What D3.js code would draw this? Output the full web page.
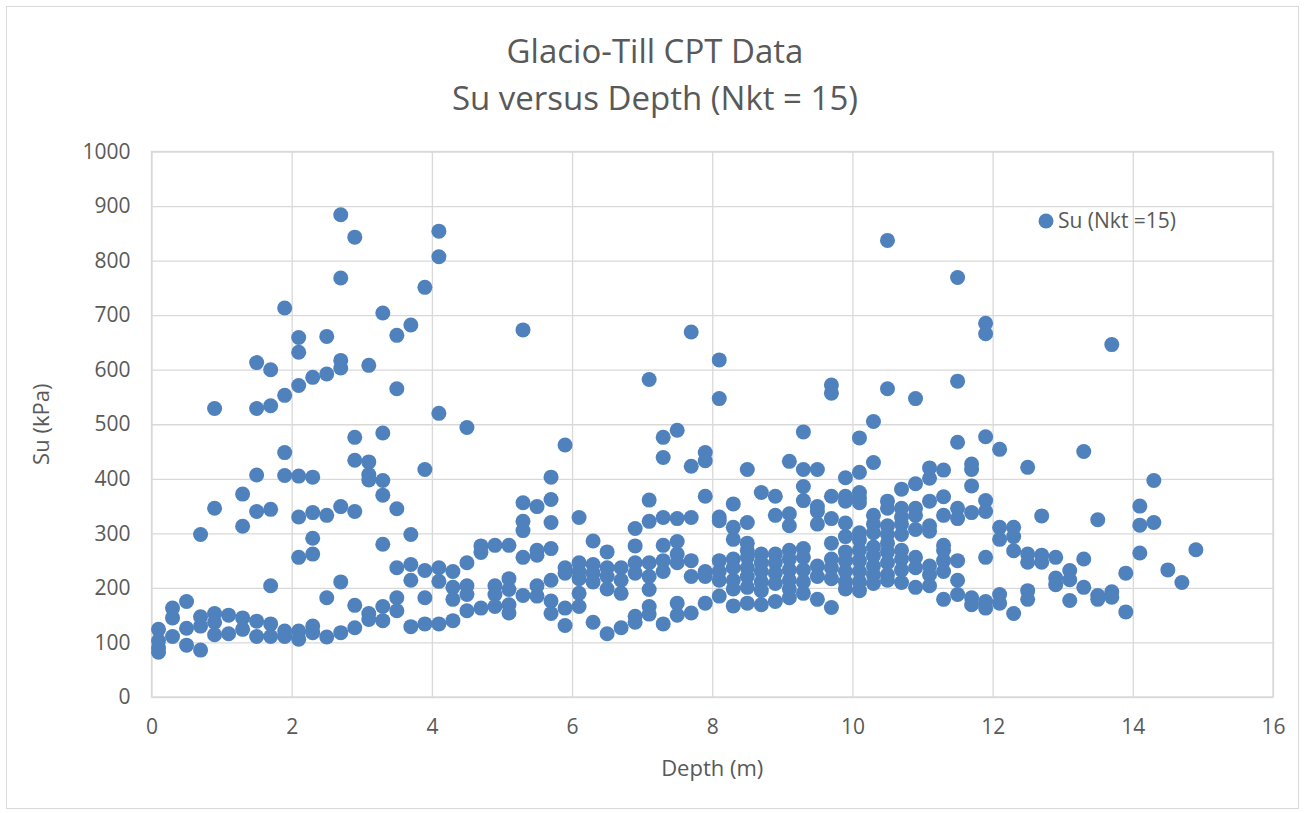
<!DOCTYPE html>
<html><head><meta charset="utf-8">
<script src="https://cdn.jsdelivr.net/npm/d3@7"></script>
<style>body{margin:0;background:#fff}svg{display:block}text{font-family:"Open Sans",sans-serif;fill:#595959}</style>
</head><body><svg id="c" width="1304" height="813"></svg>
<script>
const titleLines = ["Glacio-Till CPT Data", "Su versus Depth (Nkt = 15)"];
const xTicks = [0,2,4,6,8,10,12,14,16];
const yTicks = [0,100,200,300,400,500,600,700,800,900,1000];
const seriesName = "Su (Nkt =15)";
const depths = [0.1,0.3,0.5,0.7,0.9,1.1,1.3,1.5,1.7,1.9,2.1,2.3,2.5,2.7,2.9,3.1,3.3,3.5,3.7,3.9,4.1,4.3,4.5,4.7,4.9,5.1,5.3,5.5,5.7,5.9,6.1,6.3,6.5,6.7,6.9,7.1,7.3,7.5,7.7,7.9,8.1,8.3,8.5,8.7,8.9,9.1,9.3,9.5,9.7,9.9,10.1,10.3,10.5,10.7,10.9,11.1,11.3,11.5,11.7,11.9,12.1,12.3,12.5,12.7,12.9,13.1,13.3,13.5,13.7,13.9,14.1,14.3,14.5,14.7,14.9];
const suValues = [
 [124,103,90,82],
 [163,145,111],
 [175,126,95],
 [298,147,130,86],
 [529,346,153,137,114],
 [150,116],
 [372,313,145,124],
 [613,529,407,340,139,111],
 [600,534,344,204,134,111],
 [713,553,448,406,121,111],
 [659,632,571,405,330,256,121,106],
 [586,403,338,291,262,130,118],
 [661,592,333,182,110],
 [884,768,617,603,349,211,118],
 [843,476,434,340,168,127],
 [608,431,408,398,153,142],
 [704,484,397,370,280,166,140],
 [663,565,345,237,182,158],
 [682,298,243,214,129],
 [751,417,232,182,134],
 [854,807,520,237,212,134],
 [230,201,179,140],
 [494,246,204,188,158],
 [277,265,163],
 [278,204,188,166],
 [278,217,197,169,154],
 [673,356,322,305,256,186],
 [349,269,260,204,185],
 [403,362,320,272,214,176,153],
 [462,237,227,163,131],
 [329,246,230,217,190,166],
 [286,243,227,211,137],
 [266,237,221,198,116],
 [237,214,190,127],
 [309,277,246,227,148,137],
 [582,361,322,246,221,197,166,152],
 [476,439,329,278,250,230,134],
 [489,327,285,262,246,172,150],
 [669,423,329,250,221,154],
 [448,433,368,230,221,172],
 [618,547,330,323,250,230,214,185],
 [354,311,289,253,237,214,198,167],
 [417,320,282,269,256,237,221,201,172],
 [375,262,246,230,211,195,169],
 [368,333,262,246,227,208,175],
 [432,336,314,269,253,233,214,198,182],
 [486,417,386,360,272,256,233,211,190],
 [417,349,340,317,240,221,179],
 [572,557,368,327,282,253,237,217,164],
 [402,368,359,319,294,266,250,230,211,198],
 [475,412,375,365,356,301,288,269,250,230,211,195],
 [505,430,333,317,301,275,259,240,224,208],
 [837,565,359,346,314,298,282,266,246,224,214],
 [381,346,330,317,298,269,253,233,210],
 [547,391,346,333,307,256,237,201],
 [420,401,359,314,304,240,224,204],
 [416,367,333,278,269,250,230,179],
 [769,579,467,346,327,250,214,188],
 [427,417,387,338,182,169],
 [685,666,477,360,340,256,175,163],
 [454,311,289,188,172],
 [311,294,268,153],
 [421,262,247,195,179],
 [332,260,247],
 [256,218,206],
 [232,215,177],
 [450,253,201],
 [325,186,179],
 [646,193,183],
 [227,156],
 [350,315,264],
 [397,320],
 [233],
 [210],
 [270]
];

const points = [];
depths.forEach((d,i)=>suValues[i].forEach(v=>points.push({d, v})));

const svg = d3.select("#c");
const plot = {left:151.5, right:1273, top:151.5, bottom:697};
const x = d3.scaleLinear().domain([0,16]).range([plot.left, plot.right]);
const y = d3.scaleLinear().domain([0,1000]).range([plot.bottom, plot.top]);

svg.append("rect").attr("x",6.5).attr("y",6.5).attr("width",1292).attr("height",802)
  .attr("fill","#fff").attr("stroke","#d9d9d9").attr("stroke-width",1);

const gx = svg.append("g").attr("transform",`translate(0,${plot.bottom})`)
  .call(d3.axisBottom(x).tickValues(xTicks).tickSize(-(plot.bottom-plot.top)).tickFormat(d=>d).tickPadding(22));
const gy = svg.append("g").attr("transform",`translate(${plot.left},0)`)
  .call(d3.axisLeft(y).tickValues(yTicks).tickSize(-(plot.right-plot.left)).tickFormat(d=>d).tickPadding(21));
[gx,gy].forEach(g=>{
  g.select(".domain").remove();
  g.selectAll(".tick line").attr("stroke","#d9d9d9").attr("stroke-width",1.3);
  g.selectAll(".tick text").attr("font-size",21).attr("fill","#595959").style("font-family","'Open Sans',sans-serif");
});
svg.append("rect").attr("x",plot.left).attr("y",plot.top).attr("width",plot.right-plot.left).attr("height",plot.bottom-plot.top)
  .attr("fill","none").attr("stroke","#d9d9d9").attr("stroke-width",1.3);

svg.append("g").selectAll("circle").data(points).join("circle")
  .attr("cx",p=>x(p.d)).attr("cy",p=>y(p.v)).attr("r",7.5).attr("fill","#4f81bd");

svg.append("text").attr("x",655).attr("y",63).attr("text-anchor","middle").attr("font-size",33).text(titleLines[0]);
svg.append("text").attr("x",655).attr("y",110).attr("text-anchor","middle").attr("font-size",33).text(titleLines[1]);

svg.append("text").attr("x",(plot.left+plot.right)/2).attr("y",776).attr("text-anchor","middle").attr("font-size",22).text("Depth (m)");
svg.append("text").attr("transform",`translate(49,${(plot.top+plot.bottom)/2}) rotate(-90)`).attr("text-anchor","middle").attr("font-size",22).text("Su (kPa)");

svg.append("circle").attr("cx",1046).attr("cy",221).attr("r",7.5).attr("fill","#4f81bd");
svg.append("text").attr("x",1058).attr("y",228).attr("font-size",21).text(seriesName);
</script></body></html>
